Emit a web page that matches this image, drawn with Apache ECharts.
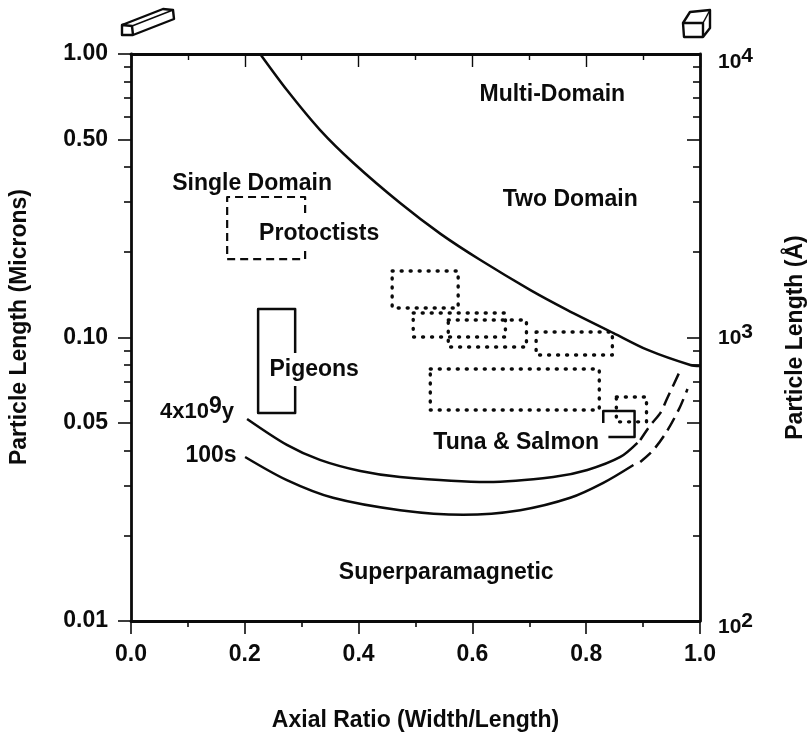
<!DOCTYPE html>
<html><head><meta charset="utf-8">
<style>html,body{margin:0;padding:0;background:#fff}#c{width:809px;height:732px}</style>
<script src="https://cdn.jsdelivr.net/npm/echarts@6/dist/echarts.min.js"></script>
</head><body><div id="c"></div>
<script>
// Axis ticks
const yMajorTicks = [1, 0.5, 0.1, 0.05, 0.01];
const yMinorTicks = [0.9,0.8,0.7,0.6,0.4,0.3,0.2,0.09,0.08,0.07,0.06,0.04,0.03,0.02];
const rightMajorTicks = [10000, 5000, 1000, 500, 100];
const rightMinorTicks = [9000,8000,7000,6000,4000,3000,2000,900,800,700,600,400,300,200];
const rightLabels = {10000:'4', 1000:'3', 100:'2'};
// Curves [axial ratio, length in microns]
const twoDomainLine = [[0.227,1],[0.274,0.746],[0.332,0.54],[0.391,0.4125],[0.473,0.298],[0.544,0.232],[0.614,0.1876],[0.702,0.147],[0.767,0.125],[0.848,0.1037],[0.908,0.0904],[0.983,0.08],[1,0.0794]];
const age4e9Solid = [[0.204,0.0516],[0.274,0.0418],[0.332,0.037],[0.403,0.0338],[0.473,0.0322],[0.626,0.0309],[0.742,0.0322],[0.802,0.0341],[0.86,0.0379],[0.89,0.0425]];
const age4e9Dash = [[0.895,0.0435],[0.913,0.0491],[0.9305,0.0542],[0.941,0.0602],[0.964,0.0756]];
const age100sSolid = [[0.2005,0.0379],[0.274,0.0314],[0.355,0.0272],[0.473,0.0246],[0.584,0.0237],[0.684,0.0246],[0.772,0.0272],[0.83,0.0307],[0.883,0.0355]];
const age100sDash = [[0.895,0.0364],[0.918,0.0401],[0.941,0.0464],[0.964,0.0564],[0.978,0.0658]];
// Region boxes
const protoctistsBox = [[0.306,0.275],[0.306,0.313],[0.169,0.313],[0.169,0.189],[0.306,0.189],[0.306,0.207]];
const pigeonsBox = [[0.2885,0.0882],[0.2885,0.126],[0.2234,0.126],[0.2234,0.0542],[0.2885,0.0542],[0.2885,0.0675]];
const tunaBox = [[0.83,0.0499],[0.83,0.055],[0.885,0.055],[0.885,0.0446],[0.839,0.0446]];
const dottedBoxA = [[0.459,0.1717],[0.575,0.1717],[0.575,0.1271],[0.459,0.1271],[0.459,0.1717]];
const dottedBoxB = [[0.496,0.122],[0.658,0.122],[0.658,0.1004],[0.496,0.1004],[0.496,0.122]];
const dottedBoxC = [[0.5576,0.1153],[0.695,0.1153],[0.695,0.0926],[0.5576,0.0926],[0.5576,0.1153]];
const dottedBoxD = [[0.712,0.1046],[0.846,0.1046],[0.846,0.0868],[0.712,0.0868],[0.712,0.1046]];
const dottedBoxE = [[0.526,0.0774],[0.823,0.0774],[0.823,0.0555],[0.526,0.0555],[0.526,0.0774]];
const dottedBoxF = [[0.853,0.0617],[0.906,0.0617],[0.906,0.0504],[0.853,0.0504],[0.853,0.0617]];
// Annotations
const noteText = ['Multi-Domain','Two Domain','Single Domain','Protoctists','Pigeons','{t|4x10}{s|9}{t|y}','100s','Tuna & Salmon','Superparamagnetic'];
const noteX = [0.7405,0.772,0.2128,0.3307,0.3219,0.116,0.1407,0.677,0.554];
const noteY = [0.728,0.3105,0.3536,0.2356,0.078,0.0573,0.0388,0.0431,0.0151];

const black = '#0b0b0b';
const font = '"Liberation Sans", Arial, sans-serif';
const FS = 23;
const line = (data, type, width, cap) => ({type:'line', data, symbol:'none', smooth:false, silent:true, animation:false,
  lineStyle:{color:black, width, type, cap: cap||'butt', join:'round'}});
const smoothLine = (data, type, width) => Object.assign(line(data,type,width), {smooth:0.3});
const noLabel = {show:false};
const hidden = {show:false};
const axisLineS = {show:true, lineStyle:{color:black, width:2.8}};
const pow = (padding) => ({color:black,fontFamily:font,fontWeight:'bold',fontSize:21,padding});

const chart = echarts.init(document.getElementById('c'), null, {renderer:'canvas'});
chart.setOption({
  animation:false,
  backgroundColor:'#fff',
  grid:{left:131, right:109, top:54, bottom:111, containLabel:false, outerBoundsMode:'none'},
  xAxis:[
    {type:'value', min:0, max:1, interval:0.2, position:'bottom', splitLine:hidden,
     axisLine:axisLineS, axisTick:{show:true, length:13, lineStyle:{color:black,width:1.6}},
     minorTick:{show:true, splitNumber:2, length:6, lineStyle:{color:black,width:1.6}},
     axisLabel:{show:true, margin:22, color:black, fontFamily:font, fontWeight:'bold', fontSize:FS, formatter:v=>v.toFixed(1)},
     name:'Axial Ratio (Width/Length)', nameLocation:'middle', nameGap:88,
     nameTextStyle:{color:black, fontFamily:font, fontWeight:'bold', fontSize:FS}},
    {type:'value', min:0, max:1, interval:0.2, position:'top', splitLine:hidden,
     axisLine:axisLineS, axisTick:{show:true, inside:true, length:13, lineStyle:{color:black,width:1.4}},
     minorTick:{show:true, splitNumber:2, length:6, lineStyle:{color:black,width:1.4}},
     axisLabel:noLabel}
  ],
  yAxis:[
    {type:'log', logBase:10, min:0.01, max:1, position:'left', splitLine:hidden, minorSplitLine:hidden,
     axisLine:axisLineS,
     axisTick:{show:true, length:13, customValues:yMajorTicks, lineStyle:{color:black,width:1.6}},
     axisLabel:{show:true, margin:23, color:black, fontFamily:font, fontWeight:'bold', fontSize:FS, padding:[3,0,0,0],
       customValues:yMajorTicks, formatter:v=>Number(v).toFixed(2)},
     name:'Particle Length (Microns)', nameLocation:'middle', nameGap:100, nameRotate:90,
     nameTextStyle:{color:black, fontFamily:font, fontWeight:'bold', fontSize:FS, padding:[0,0,0,21]}},
    {type:'log', logBase:10, min:0.01, max:1, position:'left', splitLine:hidden,
     axisLine:{show:false},
     axisTick:{show:true, length:7, customValues:yMinorTicks, lineStyle:{color:black,width:1.6}},
     axisLabel:noLabel},
    {type:'log', logBase:10, min:100, max:10000, position:'right', splitLine:hidden,
     axisLine:axisLineS,
     axisTick:{show:true, inside:true, length:13, customValues:rightMajorTicks, lineStyle:{color:black,width:1.6}},
     axisLabel:{show:true, margin:18, customValues:[10000,1000,100],
       formatter:v=>{const e=rightLabels[Math.round(v)];return '{t'+e+'|10}{s'+e+'|'+e+'}';},
       rich:{t4:pow([16,0,0,0]),s4:pow([5,0,0,0]),
             t3:pow([1,0,0,0]),s3:pow([0,0,11,0]),
             t2:pow([13,0,0,0]),s2:pow([1,0,0,0])}},
     name:'Particle Length (Å)', nameLocation:'middle', nameGap:84, nameRotate:90,
     nameTextStyle:{color:black, fontFamily:font, fontWeight:'bold', fontSize:FS}},
    {type:'log', logBase:10, min:100, max:10000, position:'right', splitLine:hidden,
     axisLine:{show:false},
     axisTick:{show:true, inside:true, length:7, customValues:rightMinorTicks, lineStyle:{color:black,width:1.6}},
     axisLabel:noLabel}
  ],
  series:[
    smoothLine(twoDomainLine,'solid',2.5),
    smoothLine(age4e9Solid,'solid',2.5),
    smoothLine(age100sSolid,'solid',2.5),
    smoothLine(age4e9Dash,[14,7],2.5),
    smoothLine(age100sDash,[14,7],2.5),
    line(protoctistsBox,[8,5],2.2),
    line(pigeonsBox,'solid',2.5),
    line(tunaBox,'solid',2.5),
    line(dottedBoxA,[1,8],3.4,'round'),
    line(dottedBoxB,[1,8],3.4,'round'),
    line(dottedBoxC,[1,8],3.4,'round'),
    line(dottedBoxD,[1,8],3.4,'round'),
    line(dottedBoxE,[1,8],3.4,'round'),
    line(dottedBoxF,[1,8],3.4,'round'),
    {type:'scatter', symbolSize:0, silent:true, itemStyle:{opacity:1},
     data:noteText.map((t,i)=>({value:[noteX[i],noteY[i]], name:t})),
     label:{show:true, position:'inside', offset:[0,2], formatter:p=>p.name, color:black, fontFamily:font, fontWeight:'bold', fontSize:FS,
       rich:{t:{color:black,fontFamily:font,fontWeight:'bold',fontSize:FS-1,padding:[8,0,0,0]},
             s:{color:black,fontFamily:font,fontWeight:'bold',fontSize:FS,padding:[0,0,2,0]}}}}
  ],
  graphic:[
    {type:'polyline', shape:{points:[[122,25],[163,9],[173,10],[174,19],[133,35],[122,35],[122,25],[132,26],[133,35]]}, style:{fill:'none',stroke:black,lineWidth:2.4,lineJoin:'round'}},
    {type:'polyline', shape:{points:[[132,26],[173,10]]}, style:{fill:'none',stroke:black,lineWidth:1.5}},
    {type:'polyline', shape:{points:[[683,23],[690,12],[710,10],[710,28],[703,37],[684,37],[683,23],[703,23],[703,37]]}, style:{fill:'none',stroke:black,lineWidth:2.4,lineJoin:'round'}},
    {type:'polyline', shape:{points:[[703,23],[710,10]]}, style:{fill:'none',stroke:black,lineWidth:1.5}}
  ]
});
</script></body></html>
